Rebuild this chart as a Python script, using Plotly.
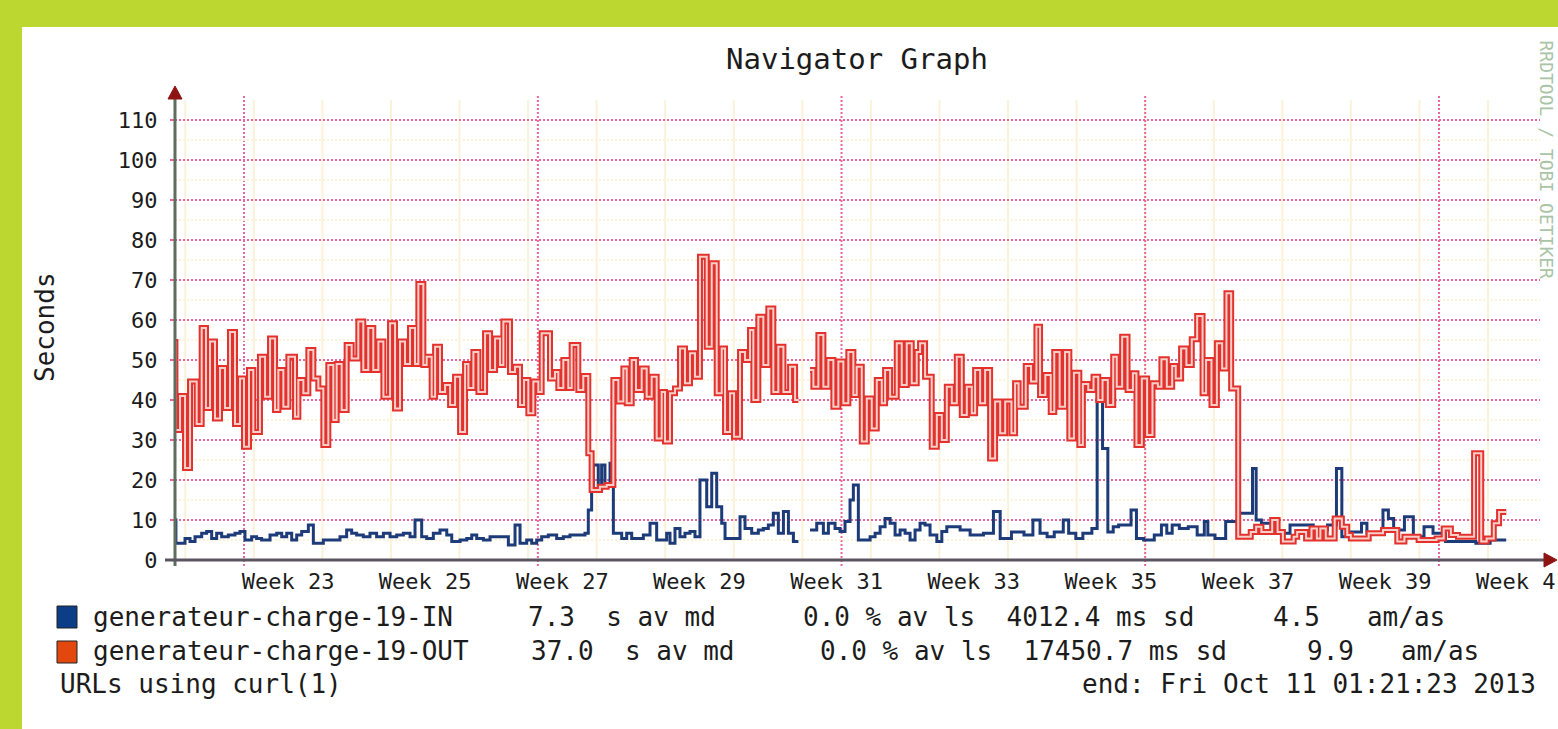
import plotly.graph_objects as go

# ---------------- data (time in days since 2013-06-01) ----------------
out_t = [-7.04, -7.00, -6.53, -6.02, -5.51, -4.83, -4.32, -3.88, -3.47, -2.96, -2.45, -1.94, -1.43, -0.92, -0.41,
         0.00, 0.51, 0.95, 1.63, 2.15, 2.66, 3.17, 3.51, 4.02, 4.53, 5.21, 5.55, 6.06, 6.57, 7.08, 7.59, 8.10,
         8.61, 9.12, 9.46, 9.97, 10.48, 10.99, 11.67, 12.18, 12.69, 13.20, 13.72, 14.23, 14.91, 15.42, 15.93,
         16.44, 16.95, 17.46, 17.80, 18.31, 18.65, 19.16, 19.51, 20.01, 20.53, 21.04, 21.55, 22.06, 22.57,
         22.91, 23.42, 23.93, 24.61, 25.12, 25.63, 26.14, 26.48, 27.16, 27.67, 28.18, 28.59, 29.03, 29.54,
         30.05, 30.39, 31.24, 31.75, 32.09, 32.60, 33.11, 33.45, 34.13, 34.64, 35.15, 35.49, 36.34, 37.03,
         37.71, 38.22, 38.73, 39.07, 39.58, 40.02, 40.60, 41.11, 41.62, 42.13, 42.64, 42.98, 43.49, 44.00,
         44.51, 45.02, 45.53, 46.04, 46.55, 47.24, 47.75, 48.26, 48.77, 49.11, 49.62, 50.03, 50.64, 51.15,
         51.66, 52.00, 52.51, 53.02, 53.53, 54.04, 54.55, 55.07, 55.75, 56.26, 56.60,
         57.79, 58.13, 58.64, 59.15, 59.66, 60.17, 60.68, 61.19, 61.70, 62.21, 62.55, 63.07, 63.58, 64.09,
         64.60, 65.11, 65.45, 65.96, 66.64, 67.15, 67.66, 68.17, 68.68, 69.02, 69.53, 70.21, 70.73, 71.24,
         71.75, 72.26, 72.77, 73.28, 73.79, 74.30, 74.64, 75.15, 75.66, 76.17, 76.68, 77.20, 77.71, 78.35,
         78.72, 79.08, 79.81, 80.35, 80.90, 81.27, 81.81, 82.36, 82.72, 83.27, 83.82, 84.26, 84.73, 85.28,
         85.64, 86.19, 86.73, 87.21, 87.65, 88.19, 88.74, 89.10, 89.65, 90.20, 90.75, 91.11, 91.66, 92.20,
         92.75, 93.30, 93.66, 94.21, 94.76, 95.12, 95.67, 96.21, 96.76, 97.31, 97.86, 98.22, 98.77, 99.32,
         99.86, 100.30, 100.78, 101.50, 102.78, 103.33, 103.87, 104.97, 105.52, 106.06, 107.16, 107.52,
         108.43, 108.98, 109.53, 109.89, 110.44, 111.35, 112.08, 112.63, 113.00, 114.82, 116.28, 117.74,
         118.47, 119.92, 121.75, 122.48, 123.21, 123.94, 125.58, 126.31, 126.86, 127.59, 128.13]
out_v = [54.5, 32.5, 41, 23, 44.6, 34, 58, 38, 54.6, 35.4, 48, 38, 57, 34, 45.4,
         28.3, 47.5, 32, 50.8, 40.8, 55.4, 37.5, 47.5, 38.3, 50.8, 35.8, 45, 41.7, 52.5, 45.4, 42.9, 28.75,
         48.75, 35, 49, 37.5, 53.75, 50.4, 59.6, 47.5, 58, 47.5, 54.6, 40.8, 59.2, 37.9, 54.6,
         49, 58, 49, 69, 48.75, 50.8, 40.8, 53.3, 42, 43.75, 38.75, 45.8, 32, 49,
         43, 52, 42, 56.7, 47.5, 55.4, 48.75, 59.6, 47, 48.3, 38.75, 45, 36.7, 44.6,
         42, 56.7, 45.4, 47, 43, 50, 43, 53.75, 42.5, 46, 26.7, 17.5, 18.3, 18.75,
         45, 39.6, 47.9, 39.2, 50, 42.5, 47.9, 40.8, 45.8, 30.4, 42, 29.6, 41.7, 42.9,
         52.9, 44.2, 51.7, 45.8, 75.8, 53.3, 74.2, 41.7, 52.9, 32, 41.7, 30.8, 52, 50,
         57.5, 40, 60.8, 48.75, 62.9, 42, 53.3, 42, 48.3, 40, None,
         47.5, 43.3, 56.25, 43.3, 50, 38.3, 49.6, 39.2, 52, 41.25, 48.3, 29.6, 40.4, 32.9,
         45, 39.2, 47.5, 40.8, 54.2, 43.75, 54.2, 44.2, 52, 54.2, 45.8, 28.3, 36.25, 30,
         43.3, 39.2, 50.8, 36.25, 43.3, 36.7, 47.5, 39.2, 47.5, 25.4, 39.6, 31.7, 39.6, 31.7,
         44.2, 38.3, 48.5, 44.6, 58.3, 41.25, 46.25, 37, 52, 38.3, 52, 30.4, 46.8, 28.75,
         44, 42.5, 45.8, 40, 45, 38.75, 50.8, 43.3, 55.8, 42.5, 46.7, 28.75, 45.4, 31.25,
         44.2, 43.3, 50.2, 43.3, 48.5, 45.4, 52.9, 48.75, 55.2, 61, 41.7, 50, 38.75, 54.2,
         47.9, 66.7, 42.9, 5.8, 7, 8.3, 7, 10, 7, 4.6, 5.8, 7,
         5.4, 7.9, 5.4, 7.9, 5.4, 10.4, 8.3, 6.25, 5.4, 6.7, 7.5, 4.6,
         5.8, 5, 5.4, 7.9, 6.25, 5.8, 26.7, 4.6, 5.4, 9.2, 12]

in_t = [-7.04, -6.95, -6.02, -5.51, -5.00, -4.32, -3.81, -3.30, -2.79, -2.28, -1.60, -0.92, -0.41, 0.10,
        0.78, 1.29, 1.80, 2.66, 3.34, 3.85, 4.36, 4.87, 5.38, 5.89, 6.57, 7.08, 8.10, 9.80, 10.48, 10.99,
        11.50, 12.18, 12.86, 13.54, 14.23, 14.91, 15.59, 16.27, 16.95, 17.46, 18.14, 18.65, 19.33, 20.01,
        20.70, 21.21, 22.06, 22.74, 23.25, 23.76, 24.44, 25.12, 26.99, 27.67, 28.18, 28.86, 29.37, 29.88,
        30.39, 31.07, 31.92, 32.60, 33.28, 34.81, 35.15, 35.49, 35.66, 36.17, 36.51, 36.85, 37.37, 37.71,
        38.56, 39.07, 39.58, 40.77, 41.45, 42.13, 43.15, 43.49, 44.00, 44.51, 45.02, 45.53, 46.04, 46.55,
        47.24, 47.75, 48.26, 48.77, 49.11, 50.64, 51.15, 51.83, 52.51, 53.02, 53.53, 54.04, 54.55, 55.07,
        55.58, 56.09, 56.60,
        57.79, 58.47, 59.15, 59.66, 60.34, 60.85, 61.36, 61.87, 62.21, 62.72, 63.92, 64.43, 64.94, 65.45,
        65.96, 66.47, 66.98, 67.49, 68.00, 68.51, 69.02, 69.53, 70.04, 70.73, 71.24, 71.75, 73.11, 74.13,
        75.49, 76.51, 77.20, 78.35, 79.63, 80.54, 81.27, 81.99, 82.72, 83.64, 84.19, 84.92, 85.64, 86.56,
        87.10, 87.65, 88.19, 88.74, 89.29, 90.56, 91.11, 91.84, 92.93, 93.66, 94.21, 94.76, 95.49, 96.40,
        97.31, 98.04, 98.40, 99.13, 100.22, 101.50, 102.96, 103.33, 103.87, 105.33, 106.79, 109.16,
        110.62, 111.53, 112.08, 113.00, 114.09, 114.64, 116.28, 116.83, 117.37, 118.47, 119.38, 120.47,
        121.39, 122.66, 125.76, 127.22]
in_v = [10, 4.2, 5.4, 4.6, 5.8, 6.7, 7.1, 5.4, 6.7, 5.8, 6.25, 6.7, 7.1, 5,
        5.8, 5.4, 5, 6.25, 6.7, 5.8, 6.7, 5, 6.25, 7.1, 8.75, 4.2, 5, 5.8, 7.5, 6.7,
        6.25, 5.8, 6.7, 5.8, 6.7, 5.8, 6.25, 6.7, 5.8, 10, 5.8, 5.4, 6.7, 7.5,
        6.25, 4.6, 5, 5.4, 6.25, 5.4, 5, 5.8, 3.75, 8.75, 4.2, 5, 4.2, 5,
        5.8, 6.25, 5.4, 5.8, 6.25, 6.7, 12.5, 17.5, 23.75, 17.5, 23.75, 18.75, 24.2, 6.7,
        5.4, 6.7, 5.4, 6.25, 9.2, 5, 6.7, 4.2, 7.9, 5.8, 6.7, 7.1, 5.8, 20,
        13.3, 21.7, 13.3, 9.2, 5.4, 10.8, 7.9, 6.7, 7.5, 7.9, 8.75, 11.7, 6.7, 12.1,
        6.7, 4.6, None,
        7.5, 9.2, 6.7, 9.2, 7.9, 7.1, 9.6, 15, 18.75, 5, 5.8, 6.7, 8.3, 10.4,
        9.2, 6.25, 7.5, 6.7, 5, 7.5, 9.2, 8.75, 6.25, 4.6, 7.1, 8.3, 7.5, 6.25,
        6.7, 12.1, 5.4, 7, 6.25, 10, 6.7, 5.8, 7, 10, 6.7, 5.4, 6.7, 7.9,
        40, 27.9, 7, 8.3, 8.75, 12.5, 5.4, 5, 6.25, 8.75, 6.7, 8.75, 7.9, 8.3,
        6.25, 9.6, 6.25, 5.4, 9.6, 11.7, 22.9, 10, 9.2, 6.7, 8.75, 7.5,
        8.75, 22.9, 5.8, 7, 9.2, 6.7, 12.5, 10.4, 7.5, 10.8, 5.8, 8.3,
        6.7, 4.6, 4.2, 5]
t_end = 128.86

week_labels = ["Week 23", "Week 25", "Week 27", "Week 29", "Week 31", "Week 33",
               "Week 35", "Week 37", "Week 39", "Week 41"]
week_label_days = [4.5, 18.5, 32.5, 46.5, 60.5, 74.5, 88.5, 102.5, 116.5, 130.5]
week_start_days = [-6, 1, 8, 15, 22, 29, 36, 43, 50, 57, 64, 71, 78, 85, 92, 99, 106, 113, 120, 127]
month_start_days = [0, 30, 61, 92, 122]
y_ticks = [0, 10, 20, 30, 40, 50, 60, 70, 80, 90, 100, 110]

series_names = ["generateur-charge-19-IN", "generateur-charge-19-OUT"]
stat_avg = ["7.3  s av md", "37.0  s av md"]
stat_loss = ["0.0 % av ls  4012.4 ms sd", "0.0 % av ls  17450.7 ms sd"]
stat_am = ["4.5   am/as", "9.9   am/as"]
footer_left = "URLs using curl(1)"
footer_right = "end: Fri Oct 11 01:21:23 2013"

# ---------------- geometry ----------------
W, H = 1558, 729
L, R, T, B = 175, 1540, 100, 560
X_RANGE = [-7.044, 132.31]
Y_RANGE = [0, 115]
FONT = "DejaVu Sans Mono"
TXT = "#1c1c1c"
GREEN = "#BDD731"
BLUE = "#1D3B78"
RED = "#E3322E"
RED_IN = "#F7CFC8"
PINK = "#E8669B"
CREAM = "#FBF2D9"


def px(xpix):
    return (xpix - L) / (R - L)


def py(ypix):
    return (B - ypix) / (B - T)


def steps(t, v, end):
    xs, ys = [], []
    for i, val in enumerate(v):
        a = t[i]
        b = t[i + 1] if i + 1 < len(t) else end
        if val is None:
            xs.append(None)
            ys.append(None)
            continue
        xs += [a, b]
        ys += [val, val]
    return xs, ys


fig = go.Figure()

ix, iy = steps(in_t, in_v, t_end)
ox, oy = steps(out_t, out_v, t_end)
fig.add_trace(go.Scatter(x=ix, y=iy, mode="lines", line=dict(color=BLUE, width=3),
                         connectgaps=False, showlegend=False, hoverinfo="skip"))
fig.add_trace(go.Scatter(x=ox, y=oy, mode="lines", line=dict(color=RED, width=6),
                         connectgaps=False, showlegend=False, hoverinfo="skip"))
fig.add_trace(go.Scatter(x=ox, y=oy, mode="lines", line=dict(color=RED_IN, width=2),
                         connectgaps=False, showlegend=False, hoverinfo="skip"))

shapes = []
# white panel
shapes.append(dict(type="rect", xref="paper", yref="paper", x0=px(22), x1=px(1600),
                   y0=py(27), y1=py(760), fillcolor="white", line=dict(width=0), layer="below"))
# weekly minor grid
for d in week_start_days:
    shapes.append(dict(type="line", xref="x", yref="paper", x0=d, x1=d, y0=0, y1=1,
                       line=dict(color=CREAM, width=2), layer="below"))
# month major grid
for d in month_start_days:
    shapes.append(dict(type="line", xref="x", yref="paper", x0=d, x1=d, y0=py(566), y1=py(96),
                       line=dict(color=PINK, width=2, dash="2px,2px"), layer="between"))
# axes
shapes.append(dict(type="line", xref="paper", yref="paper", x0=px(175), x1=px(175),
                   y0=py(566), y1=py(96), line=dict(color="#5E6E5E", width=3)))
shapes.append(dict(type="line", xref="paper", yref="paper", x0=px(165), x1=px(1546),
                   y0=py(560), y1=py(560), line=dict(color="#5A5560", width=3)))
# arrow heads
shapes.append(dict(type="path", xref="paper", yref="paper",
                   path=f"M {px(168)} {py(99)} L {px(182)} {py(99)} L {px(175)} {py(86)} Z",
                   fillcolor="#8E1414", line=dict(color="#8E1414", width=1)))
shapes.append(dict(type="path", xref="paper", yref="paper",
                   path=f"M {px(1544)} {py(553)} L {px(1544)} {py(567)} L {px(1557)} {py(560)} Z",
                   fillcolor="#8E1414", line=dict(color="#8E1414", width=1)))
# legend squares
shapes.append(dict(type="rect", xref="paper", yref="paper", x0=px(57), x1=px(77),
                   y0=py(628), y1=py(606), fillcolor="#0B3E87", line=dict(color="#222", width=1)))
shapes.append(dict(type="rect", xref="paper", yref="paper", x0=px(57), x1=px(77),
                   y0=py(663), y1=py(641), fillcolor="#E2470E", line=dict(color="#222", width=1)))

ann = []
ann.append(dict(text="Navigator Graph", x=px(857), y=py(59), xref="paper", yref="paper",
                showarrow=False, font=dict(family=FONT, size=29, color=TXT), xanchor="center", yanchor="middle"))
ann.append(dict(text="Seconds", x=px(45), y=py(327), xref="paper", yref="paper", textangle=-90,
                showarrow=False, font=dict(family=FONT, size=26, color=TXT), xanchor="center", yanchor="middle"))
ann.append(dict(text="RRDTOOL / TOBI OETIKER", x=px(1546), y=py(38), xref="paper", yref="paper", textangle=90,
                showarrow=False, font=dict(family=FONT, size=18, color="#A9C4A6"), xanchor="center", yanchor="top"))
row_y = [617, 651]
x_name, x_avg, x_loss, x_am = 91, [526, 529], [801, 818], [1271, 1305]
for i in range(2):
    for xx, tx in [(x_name, series_names[i]), (x_avg[i], stat_avg[i]), (x_loss[i], stat_loss[i]), (x_am[i], stat_am[i])]:
        ann.append(dict(text=tx.replace(" ", "&nbsp;"), x=px(xx), y=py(row_y[i]), xref="paper", yref="paper",
                        showarrow=False, font=dict(family=FONT, size=26, color=TXT),
                        xanchor="left", yanchor="middle"))
ann.append(dict(text=footer_left, x=px(58), y=py(684), xref="paper", yref="paper",
                showarrow=False, font=dict(family=FONT, size=26, color=TXT), xanchor="left", yanchor="middle"))
ann.append(dict(text=footer_right, x=px(1538), y=py(684), xref="paper", yref="paper",
                showarrow=False, font=dict(family=FONT, size=26, color=TXT), xanchor="right", yanchor="middle"))

fig.update_layout(
    width=W, height=H, autosize=False,
    margin=dict(l=L, r=W - R, t=T, b=H - B, pad=0, autoexpand=False),
    paper_bgcolor=GREEN, plot_bgcolor="white",
    shapes=shapes, annotations=ann, showlegend=False,
    xaxis=dict(range=X_RANGE, showgrid=False, zeroline=False, showline=False, automargin=False,
               tickmode="array", tickvals=week_label_days, ticktext=week_labels,
               ticks="", ticklabelstandoff=6, ticklabeloverflow="allow",
               tickfont=dict(family=FONT, size=22, color=TXT), fixedrange=True),
    yaxis=dict(range=Y_RANGE, zeroline=False, showline=False, automargin=False,
               tickmode="array", tickvals=y_ticks,
               showgrid=True, gridcolor=PINK, gridwidth=2, griddash="2px,2px",
               minor=dict(dtick=5, showgrid=True, gridcolor=CREAM, gridwidth=2),
               ticks="outside", ticklen=4, tickcolor=PINK, tickwidth=2, ticklabelstandoff=8,
               tickfont=dict(family=FONT, size=22, color=TXT), fixedrange=True),
)

fig.write_html("out.html",
               config={"displayModeBar": False, "responsive": False, "staticPlot": True},
               post_script="document.body.style.margin='0px';")
